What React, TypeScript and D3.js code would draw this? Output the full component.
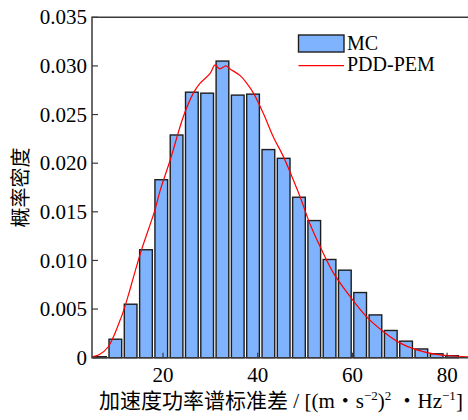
import { useRef, useEffect } from 'react';
import * as d3 from 'd3';

// histogram of the Monte Carlo samples (bin centres and densities)
const binCenters = [
  6.7, 9.93, 13.16, 16.4, 19.63, 22.86, 26.09, 29.32, 32.55, 35.78, 39.01, 42.25,
  45.48, 48.71, 51.94, 55.17, 58.4, 61.63, 64.86, 68.1, 71.33, 74.56, 77.79, 81.02,
];
const binWidth = 3.23;
const mcDensity = [
  0.0001, 0.0019, 0.0055, 0.0111, 0.0183, 0.0229, 0.0273, 0.0272, 0.0305, 0.027, 0.0271, 0.0214,
  0.0205, 0.0165, 0.0141, 0.0101, 0.009, 0.0067, 0.0044, 0.0028, 0.0017, 0.0009, 0.0004, 0.0002,
];

// PDD-PEM curve
const pemX = [
  5.0, 6.5, 8.4, 11.2, 12.6, 14.0, 15.4, 18.3, 19.4, 21.5, 24.3, 26.4, 27.8, 29.9, 31.0, 32.0,
  33.3, 34.1, 36.3, 37.7, 39.1, 41.2, 43.3, 45.4, 47.5, 48.9, 51.0, 53.2, 56.0, 59.5, 63.0,
  66.5, 70.1, 73.6, 77.1, 80.6, 84.1, 86.0,
];
const pemY = [
  0.0001, 0.0003, 0.0011, 0.0042, 0.0063, 0.0087, 0.011, 0.0152, 0.0172, 0.0203, 0.0248, 0.0272,
  0.0282, 0.0292, 0.0301, 0.0297, 0.03, 0.0297, 0.029, 0.0282, 0.0272, 0.0251, 0.0227, 0.0207,
  0.0183, 0.0166, 0.0138, 0.0114, 0.0087, 0.0063, 0.0042, 0.0027, 0.0015, 0.0008, 0.0004,
  0.0002, 0.0001, 0.0001,
];

const yTicks = [0, 0.005, 0.01, 0.015, 0.02, 0.025, 0.03, 0.035];
const xTicks = [20, 40, 60, 80];
const legendLabels = ['MC', 'PDD-PEM'];

const W = 468;
const H = 420;
const serif = "'Liberation Serif', 'Times New Roman', 'Noto Sans CJK SC', serif";
const axisColor = '#3a3a3a';

export default function App() {
  const svgRef = useRef<SVGSVGElement>(null);

  function renderChart() {
    const svg = d3.select(svgRef.current);
    svg.selectAll('*').remove();
    svg.attr('width', W).attr('height', H);

    const x = d3.scaleLinear().domain([5, 85]).range([92, 470.8]);
    const y = d3.scaleLinear().domain([0, 0.035]).range([357.7, 17.3]);

    // bars
    const gap = 1.3;
    svg
      .append('g')
      .selectAll('rect')
      .data(binCenters)
      .join('rect')
      .attr('x', (d) => x(d - binWidth / 2) + gap)
      .attr('width', (d) => x(d + binWidth / 2) - x(d - binWidth / 2) - 2 * gap)
      .attr('y', (_, i) => y(mcDensity[i]))
      .attr('height', (_, i) => y(0) - y(mcDensity[i]))
      .attr('fill', '#80b3fd')
      .attr('stroke', '#1e1e1e')
      .attr('stroke-width', 1.4);

    // curve
    const line = d3
      .line<number>()
      .x((d) => x(d))
      .y((_, i) => y(pemY[i]))
      .curve(d3.curveCatmullRom);
    svg
      .append('path')
      .attr('d', line(pemX))
      .attr('fill', 'none')
      .attr('stroke', '#ff0000')
      .attr('stroke-width', 1.2);

    // frame
    const [x0, x1] = x.range();
    const [yb, yt] = y.range();
    svg
      .append('path')
      .attr('d', `M${x0},${yb}H${x1}V${yt}H${x0}Z`)
      .attr('fill', 'none')
      .attr('stroke', axisColor)
      .attr('stroke-width', 1.5);

    // y axis
    const yAxis = svg.append('g');
    yAxis
      .selectAll('line')
      .data(yTicks)
      .join('line')
      .attr('x1', x0)
      .attr('x2', x0 + 6)
      .attr('y1', (d) => y(d))
      .attr('y2', (d) => y(d))
      .attr('stroke', axisColor)
      .attr('stroke-width', 1.2);
    yAxis
      .selectAll('text')
      .data(yTicks)
      .join('text')
      .attr('x', 87)
      .attr('y', (d) => y(d))
      .attr('dy', '0.34em')
      .attr('text-anchor', 'end')
      .attr('font-family', serif)
      .attr('font-size', 21)
      .text((d) => (d === 0 ? '0' : d3.format('.3f')(d)));

    // x axis
    const xAxis = svg.append('g');
    xAxis
      .selectAll('line')
      .data(xTicks)
      .join('line')
      .attr('x1', (d) => x(d))
      .attr('x2', (d) => x(d))
      .attr('y1', yb)
      .attr('y2', yb - 5)
      .attr('stroke', axisColor)
      .attr('stroke-width', 1.2);
    xAxis
      .selectAll('text')
      .data(xTicks)
      .join('text')
      .attr('x', (d) => x(d))
      .attr('y', 382)
      .attr('text-anchor', 'middle')
      .attr('font-family', serif)
      .attr('font-size', 21)
      .text((d) => d);

    // axis titles
    const xt = svg
      .append('text')
      .attr('x', 281)
      .attr('y', 408)
      .attr('text-anchor', 'middle')
      .attr('font-family', serif)
      .attr('font-size', 21);
    xt.append('tspan').text('加速度功率谱标准差 / [(m・s');
    xt.append('tspan').attr('font-size', 13).attr('dy', -8).text('−2');
    xt.append('tspan').attr('dy', 8).text(')');
    xt.append('tspan').attr('font-size', 13).attr('dy', -8).text('2');
    xt.append('tspan').attr('dy', 8).text(' ・Hz');
    xt.append('tspan').attr('font-size', 13).attr('dy', -8).text('−1');
    xt.append('tspan').attr('dy', 8).text(']');

    svg
      .append('text')
      .attr('transform', 'translate(28,187.5) rotate(-90)')
      .attr('text-anchor', 'middle')
      .attr('font-family', serif)
      .attr('font-size', 20)
      .text('概率密度');

    // legend
    const lg = svg.append('g');
    lg.append('rect')
      .attr('x', 298.5)
      .attr('y', 35)
      .attr('width', 45.5)
      .attr('height', 17)
      .attr('fill', '#80b3fd')
      .attr('stroke', '#1e1e1e')
      .attr('stroke-width', 1.4);
    lg.append('line')
      .attr('x1', 298.5)
      .attr('x2', 344)
      .attr('y1', 65.7)
      .attr('y2', 65.7)
      .attr('stroke', '#ff0000')
      .attr('stroke-width', 1.2);
    lg.selectAll('text')
      .data(legendLabels)
      .join('text')
      .attr('x', 347)
      .attr('y', (_, i) => 49.5 + i * 21.5)
      .attr('font-family', serif)
      .attr('font-size', 20)
      .text((d) => d);
  }

  useEffect(() => {
    renderChart();
  }, []);

  return (
    <div style={{ position: 'absolute', left: 0, top: 0, width: W, height: H, overflow: 'hidden' }}>
      <svg ref={svgRef} style={{ display: 'block', background: '#fff' }} />
    </div>
  );
}
